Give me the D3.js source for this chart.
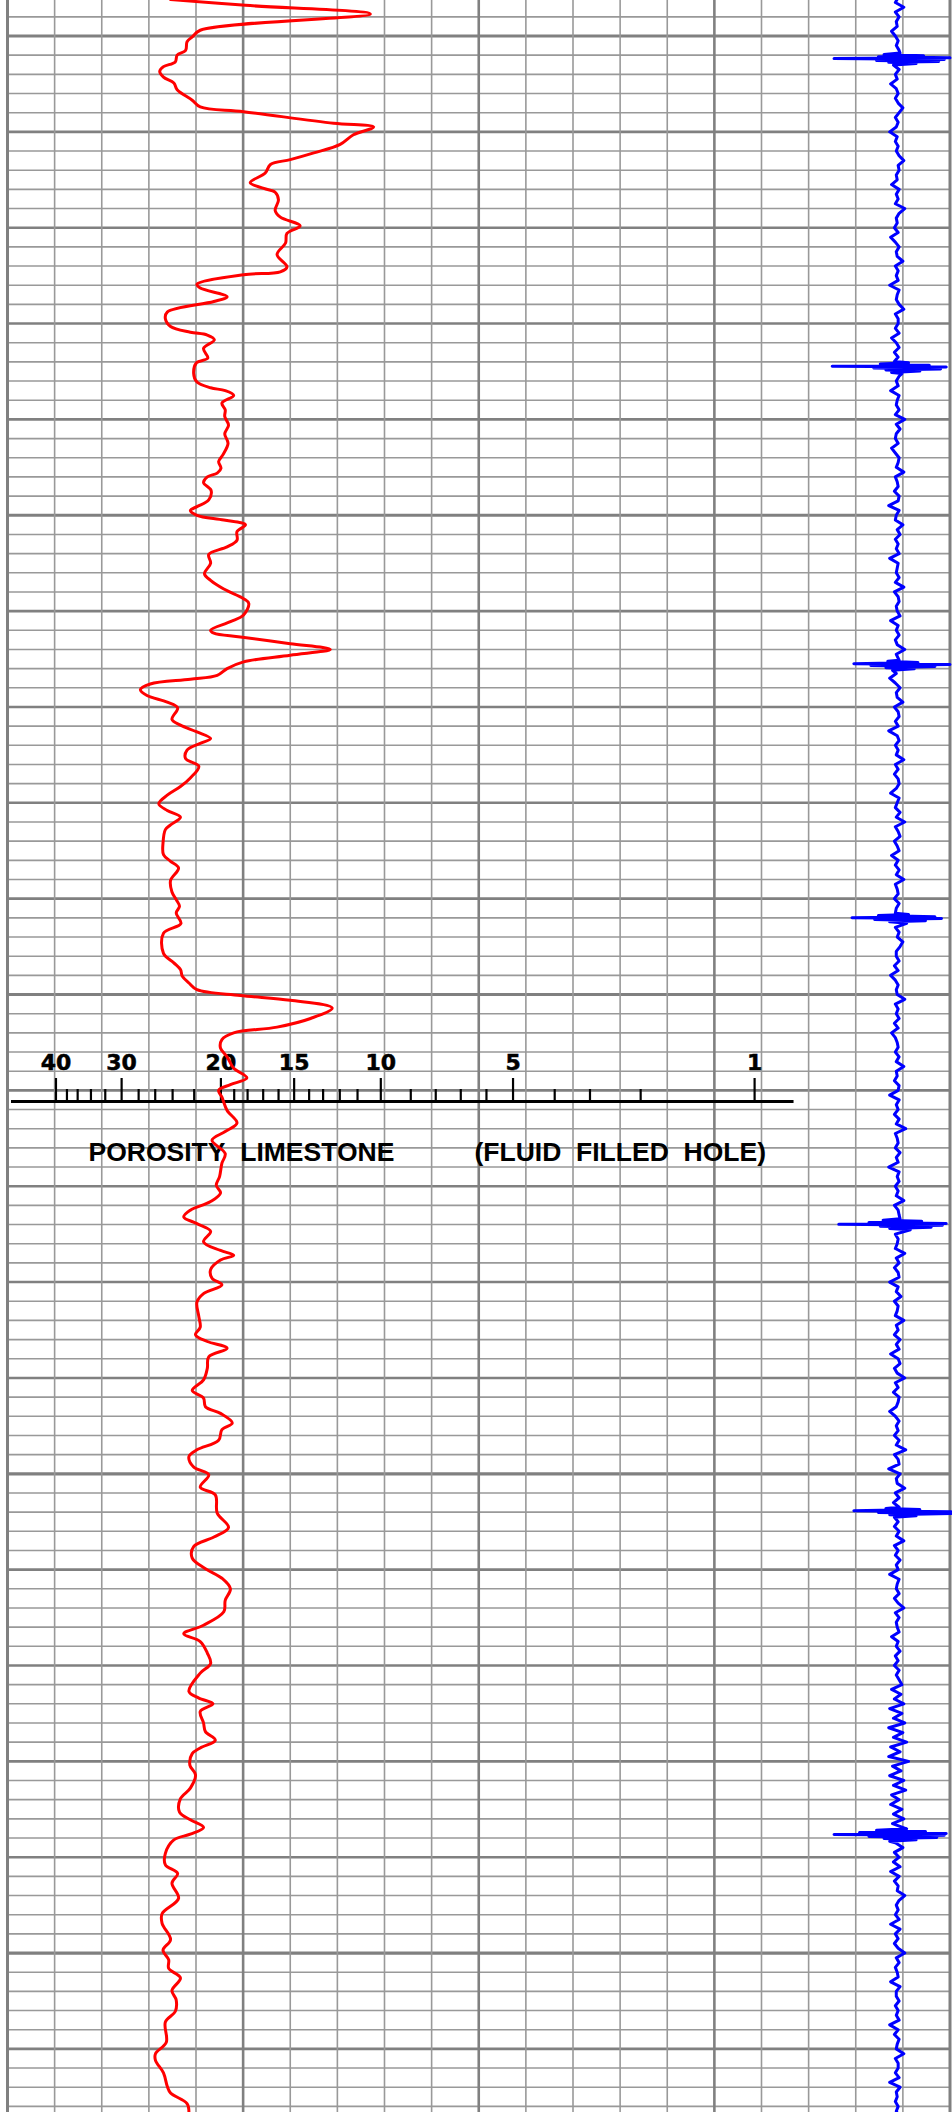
<!DOCTYPE html>
<html><head><meta charset="utf-8">
<script src="https://cdn.jsdelivr.net/npm/d3@7"></script>
<style>
html,body{margin:0;padding:0;background:#fff;}
svg{display:block;}
</style></head>
<body>
<svg id="chart" width="952" height="2112"></svg>
<script>
// ================= DATA =================
// Red neutron curve: [depth (ft), reading in chart units 0..200 across the track]
const neutronCurve = [
[4996.2,34.6],[4996.8,50.5],[4997.7,77.0],[4999.4,40.9],[5000.1,39.2],[5000.6,38.1],[5001.5,37.8],[5002.0,36.0],[5002.7,35.6],[5003.2,33.1],[5003.7,32.3],[5004.3,33.1],[5004.9,35.3],[5005.6,36.0],[5006.7,39.2],[5007.4,40.9],[5007.9,50.1],[5009.1,69.2],[5009.5,77.7],[5010.3,73.4],[5011.3,70.6],[5012.2,65.0],[5012.9,60.0],[5013.4,55.8],[5014.3,54.7],[5015.3,51.5],[5015.9,54.4],[5016.3,56.8],[5017.1,57.5],[5018.2,56.8],[5018.9,57.9],[5019.8,62.1],[5020.6,59.3],[5021.6,59.0],[5022.8,57.2],[5024.1,59.3],[5024.6,57.9],[5024.9,50.1],[5025.9,40.2],[5026.3,40.9],[5027.2,46.6],[5027.7,43.8],
[5028.8,33.9],[5029.5,33.5],[5030.3,34.6],[5030.9,38.8],[5031.2,42.4],[5031.7,43.9],[5032.6,41.6],[5033.6,42.5],[5034.1,40.1],[5035.2,39.5],[5036.1,40.2],[5036.7,43.1],[5037.0,46.2],[5037.5,48.0],[5038.3,45.5],[5039.0,46.2],[5039.7,46.1],[5040.6,46.9],[5041.5,46.1],[5042.5,46.8],[5043.7,45.7],[5044.4,44.8],[5045.1,45.3],[5045.6,44.5],[5046.0,42.4],[5046.6,41.6],[5047.4,43.2],[5048.4,42.7],[5049.1,40.2],[5049.5,38.8],[5050.0,40.2],[5050.5,45.9],[5051.0,50.5],[5051.7,48.7],[5052.6,48.7],[5053.3,46.6],[5054.1,42.7],[5055.0,43.1],[5056.1,41.8],[5056.8,43.1],[5057.7,45.9],[5058.7,50.1],[5059.2,51.2],[5060.4,50.1],[5061.1,47.3],[5062.0,43.1],[5062.3,43.8],[5062.7,49.4],[5063.4,60.0],[5064.0,68.5],[5064.6,60.0],[5065.3,50.1],[5066.0,46.6],
[5066.7,44.5],[5067.1,38.8],[5067.6,30.3],[5068.2,28.2],[5068.8,29.6],[5069.5,33.9],[5070.1,36.1],[5071.3,34.9],[5071.9,36.7],[5072.6,40.2],[5073.3,43.1],[5073.8,40.9],[5074.5,38.1],[5075.4,37.8],[5076.2,40.6],[5077.4,38.8],[5078.3,36.7],[5079.2,33.9],[5080.1,32.1],[5080.8,33.9],[5081.5,36.7],[5082.3,34.6],[5082.8,33.5],[5084.2,33.0],[5085.4,33.1],[5086.1,34.6],[5086.8,36.3],[5088.1,34.6],[5089.3,34.9],[5090.1,35.8],[5090.8,36.5],[5091.5,35.8],[5092.6,36.8],[5093.6,33.1],[5095.7,33.1],[5096.7,35.3],[5097.4,36.7],[5098.1,37.1],[5098.8,38.5],[5099.5,40.2],[5100.1,49.4],[5100.6,60.0],[5101.4,68.9],[5102.5,64.3],[5103.4,57.2],[5104.0,48.0],[5104.7,45.5],[5105.6,45.2],[5106.5,46.6],[5107.7,48.0],[5108.7,50.8],[5109.4,47.3],[5110.0,44.8],[5110.7,45.5],[5112.1,46.6],[5113.4,48.7],[5114.3,46.2],[5115.2,43.4],[5116.6,46.2],[5117.6,45.5],[5119.0,45.0],[5119.9,44.3],[5120.7,45.2],[5121.6,43.1],[5122.5,38.8],[5123.2,37.4],[5123.9,40.2],[5124.7,43.1],[5125.8,41.6],[5126.7,45.2],[5127.2,48.0],[5127.7,45.2],[5128.7,43.1],[5129.6,43.4],[5130.3,45.5],[5131.2,41.6],[5132.1,40.2],[5133.6,40.6],[5134.7,40.9],[5135.5,39.9],[5136.2,42.4],[5136.9,46.6],[5137.8,42.7],[5139.0,42.4],[5140.2,41.6],
[5141.3,39.2],[5142.1,41.6],[5143.0,42.0],[5143.7,45.2],[5144.7,47.7],[5145.4,45.5],[5146.5,44.8],[5147.5,40.2],[5148.2,38.5],[5149.3,39.5],[5150.1,42.7],[5151.4,40.9],[5152.2,44.1],[5154.1,44.5],[5155.6,46.9],[5156.6,43.8],[5157.6,39.5],[5158.8,39.2],[5159.9,42.0],[5160.9,45.5],[5162.0,47.3],[5163.2,46.2],[5164.4,45.9],[5165.8,41.6],[5166.7,37.4],[5167.5,40.9],[5168.7,42.4],[5169.8,43.1],[5170.8,40.9],[5172.7,38.5],[5173.4,40.6],[5174.0,43.6],[5174.8,40.9],[5176.0,41.6],[5176.9,42.0],[5177.8,44.1],
[5178.6,40.9],[5179.2,39.2],[5180.4,38.7],[5181.4,39.9],[5182.8,38.8],[5183.9,36.7],[5185.3,36.5],[5186.1,38.8],[5186.9,41.6],[5187.6,38.8],[5188.2,35.3],[5189.6,33.5],[5190.8,33.5],[5191.7,36.1],[5192.7,34.9],[5194.3,36.3],[5195.9,32.8],[5196.9,32.8],[5198.6,34.6],[5199.7,33.0],[5200.7,34.2],[5201.6,34.2],[5202.6,36.7],[5203.9,34.9],[5204.9,35.8],[5206.1,35.6],[5207.2,33.5],[5209.3,33.7],[5210.5,31.4],[5211.2,31.4],[5212.5,33.1],[5213.9,33.9],[5214.6,34.6],[5215.7,38.1],[5216.6,38.5]
];

// Blue collar-locator trace: readings every 0.5 ft starting at 4996 ft
const cclStartDepth = 4996;
const cclStep = 0.5;
const cclReadings = [
1,-2,7,-2,2,-1,0,-6,-2,1,-1,2,8,1,-1,2,-2,0,-7,-1,
1,-2,1,6,2,-2,1,-1,-8,0,-2,1,-1,2,7,1,2,-1,0,-6,
2,-1,1,-2,8,2,-1,0,-3,1,-7,-2,2,-1,0,6,-2,1,-1,1,
-8,2,0,-1,2,7,-2,1,1,-2,2,-6,-1,2,-3,1,9,-2,0,2,
-1,1,-7,2,0,-1,2,-2,8,-1,3,-1,-2,1,-6,-2,2,1,-1,7,
-2,0,1,-3,2,1,-9,2,-1,-2,6,0,3,-2,1,-1,2,-8,1,0,
-1,2,-2,7,-3,1,2,-1,0,3,-7,1,-1,2,-2,0,8,-1,1,-3,
2,-1,-8,-2,3,-1,0,6,-3,1,2,-2,1,-9,0,2,-2,1,-1,7,
-2,1,-3,1,2,-1,-7,2,0,-2,3,-1,8,-2,1,3,-3,0,2,-6,
1,-2,2,-1,7,-2,0,1,-3,2,-1,2,-8,1,-2,2,0,6,3,-1,
-1,2,-3,1,-7,-2,1,-1,0,8,-2,1,-1,2,-3,1,-6,-2,0,1,
-2,2,-1,7,-1,0,-3,2,1,-8,2,-1,1,-3,2,-1,9,-2,0,1,
-2,3,-1,1,-9,2,0,2,-2,1,-1,7,-3,1,2,-2,-7,3,-2,1,
0,-2,8,-1,2,-3,1,2,-8,1,-1,4,-3,1,0,-2,7,-1,1,-3,
3,-1,2,-7,1,3,-3,0,8,-2,1,-4,2,1,-1,-8,-2,2,-1,1,
-3,2,-1,9,-3,1,2,-9,3,-1,0,8,-2,2,-4,1,3,-7,1,-3,
2,-1,7,-3,1,-2,3,-1,1,-8,2,0,-1,2,-3,1,7,-2,2,-1,
0,2,-6,1,-1,3,-2,1,-3,2,-1,2,5,-6,4,-3,7,-8,5,-4,
8,-9,6,-4,10,-7,3,-9,12,-5,4,-8,7,-4,9,-6,2,-7,5,-4,
7,-5,3,-5,4,-2,6,-3,2,-4,3,-7,2,-3,1,0,8,2,-1,1,
-2,2,-7,3,-2,1,-3,1,8,-1,2,-2,0,1,-7,3,-1,-1,2,-2,
1,-1,2,-8,1,-3,2,0,-1,7,-2,1,1,-2,2,-8,3,-1,0,-2,
1,-1,2
];

// Collar kicks: depth of each kick and its reading pattern [offset ft, reading]
const cclKickDepths = [5002.33, 5034.50, 5065.62, 5092.02, 5123.94, 5153.99, 5187.59];
const cclKickShapes = [
  [[-0.55,3],[-0.4,-14],[-0.28,28],[-0.16,-20],[-0.05,56],[0.03,-67],[0.12,50],[0.22,-22],[0.32,44],[0.42,-9],[0.55,20],[0.7,-4]],
  [[-0.55,-3],[-0.4,12],[-0.28,-18],[-0.16,34],[-0.05,-69],[0.04,52],[0.14,-25],[0.24,46],[0.34,-12],[0.46,24],[0.6,-6],[0.72,5]],
  [[-0.5,2],[-0.38,-10],[-0.26,22],[-0.14,-46],[-0.04,56],[0.06,-28],[0.16,40],[0.28,-12],[0.4,18],[0.55,-5]],
  [[-0.5,-2],[-0.38,12],[-0.26,-20],[-0.14,40],[-0.04,-48],[0.06,47],[0.16,-24],[0.28,30],[0.4,-8],[0.55,10]],
  [[-0.55,3],[-0.4,-15],[-0.28,26],[-0.16,-30],[-0.05,52],[0.04,-62],[0.13,48],[0.24,-18],[0.35,36],[0.47,-8],[0.6,14]],
  [[-0.5,2],[-0.38,-12],[-0.26,24],[-0.14,-46],[-0.04,57],[0.06,-20],[0.16,57],[0.28,-8],[0.4,20],[0.55,-3]],
  [[-0.55,10],[-0.4,-22],[-0.28,30],[-0.16,-40],[-0.05,52],[0.04,-67],[0.13,50],[0.24,-30],[0.35,42],[0.47,-14],[0.6,20],[0.75,-8]]
];

// Porosity overlay scale (limestone, fluid filled hole)
const porosityTicks = [40,38,36,34,32,30,28,26,24,22,20,19,18,17,16,15,14,13,12,11,10,9,8,7,6,5,4,3,2,1];
const porosityLabelled = [40,30,20,15,10,5,1];
// calibration of each porosity tick in chart units (0..200 across the track)
const porosityTickUnits = [10.18,12.51,14.78,17.60,20.64,24.11,27.72,31.24,34.93,39.51,45.18,48.00,50.84,54.15,57.41,60.72,63.90,66.87,70.41,74.17,79.11,85.47,90.77,96.08,101.53,107.17,116.01,123.50,134.25,158.43];
const scaleTitle = "POROSITY  LIMESTONE";
const scaleNote = "(FLUID  FILLED  HOLE)";

// ================= CHART =================
const W = 952, H = 2112;
const svg = d3.select('#chart');
svg.append('rect').attr('width', W).attr('height', H).attr('fill', '#fff');

const x = d3.scaleLinear().domain([0, 200]).range([7.5, 950]);
const y = d3.scaleLinear().domain([5000, 5216]).range([36, 2106.4]);
const xPor = d3.scaleLinear().domain(porosityTicks).range(porosityTickUnits.map(u => x(u)));
const cclCenter = 188.8;
const xCcl = d3.scaleLinear().domain([-100, 100]).range([x(cclCenter - 20), x(cclCenter + 20)]);

// ---- grid ----
const grid = svg.append('g');
const depthLines = d3.range(4998, 5217, 2);
grid.selectAll('line.h').data(depthLines).join('line')
  .attr('x1', x(0)).attr('x2', x(200))
  .attr('y1', d => y(d)).attr('y2', d => y(d))
  .attr('stroke', d => d % 10 === 0 ? '#808080' : '#999999')
  .attr('stroke-width', d => d % 50 === 0 ? 3.2 : (d % 10 === 0 ? 2.6 : 1.6));
const vLines = d3.range(0, 201, 10);
grid.selectAll('line.v').data(vLines).join('line')
  .attr('x1', d => x(d)).attr('x2', d => x(d))
  .attr('y1', 0).attr('y2', H)
  .attr('stroke', d => (d % 50 === 0) ? '#808080' : '#999999')
  .attr('stroke-width', d => (d === 0 || d === 200) ? 3 : (d % 50 === 0 ? 2.6 : 1.6));

// ---- porosity overlay scale ----
const axisDepth = 5111.15;
const ag = svg.append('g').attr('transform', `translate(0,${y(axisDepth)})`);
ag.append('line').attr('x1', x(0.74)).attr('x2', x(166.8)).attr('y1', 0).attr('y2', 0)
  .attr('stroke', '#000').attr('stroke-width', 3);
const minorAxis = d3.axisTop(xPor)
  .tickValues(porosityTicks.filter(t => !porosityLabelled.includes(t)))
  .tickSize(12.4).tickSizeOuter(0).tickFormat('');
const majorAxis = d3.axisTop(xPor)
  .tickValues(porosityLabelled).tickSize(23.4).tickSizeOuter(0).tickPadding(8)
  .tickFormat(d3.format('d'));
const mg = ag.append('g').call(minorAxis);
const Mg = ag.append('g').call(majorAxis);
[mg, Mg].forEach(g => {
  g.select('.domain').remove();
  g.selectAll('.tick line').attr('stroke', '#000').attr('stroke-width', 2.2);
});
Mg.selectAll('.tick text')
  .attr('fill', '#000')
  .attr('stroke', '#000').attr('stroke-width', 0.5)
  .attr('font-family', '"DejaVu Sans", sans-serif')
  .attr('font-weight', 'bold')
  .attr('font-size', 22);

const nb = s => s.replace(/ /g, '\u00a0');
const tg = svg.append('g')
  .attr('font-family', '"Liberation Sans", Arial, sans-serif')
  .attr('font-weight', 'bold').attr('font-size', 26.5).attr('fill', '#000');
tg.append('text').attr('x', x(17.2)).attr('y', y(5117.4)).text(nb(scaleTitle));
tg.append('text').attr('x', x(99.1)).attr('y', y(5117.4)).text(nb(scaleNote));

// ---- blue collar locator trace ----
const kickZone = 0.8;
const cclPts = [];
cclReadings.forEach((v, i) => {
  const d = cclStartDepth + i * cclStep;
  if (cclKickDepths.every(k => Math.abs(d - k) > kickZone)) cclPts.push([d, v]);
});
cclKickDepths.forEach((k, j) => cclKickShapes[j].forEach(([o, v]) => cclPts.push([k + o, v])));
cclPts.sort((a, b) => a[0] - b[0]);
svg.append('path')
  .datum(cclPts)
  .attr('fill', 'none').attr('stroke', '#0000ff').attr('stroke-width', 3)
  .attr('stroke-linejoin', 'round')
  .attr('d', d3.line().x(d => xCcl(d[1])).y(d => y(d[0])));

// ---- red neutron curve ----
svg.append('path')
  .datum(neutronCurve)
  .attr('fill', 'none').attr('stroke', '#ff0000').attr('stroke-width', 3)
  .attr('stroke-linejoin', 'round').attr('stroke-linecap', 'round')
  .attr('d', d3.line().x(d => x(d[1])).y(d => y(d[0])).curve(d3.curveCatmullRom.alpha(0.5)));
</script>
</body></html>
